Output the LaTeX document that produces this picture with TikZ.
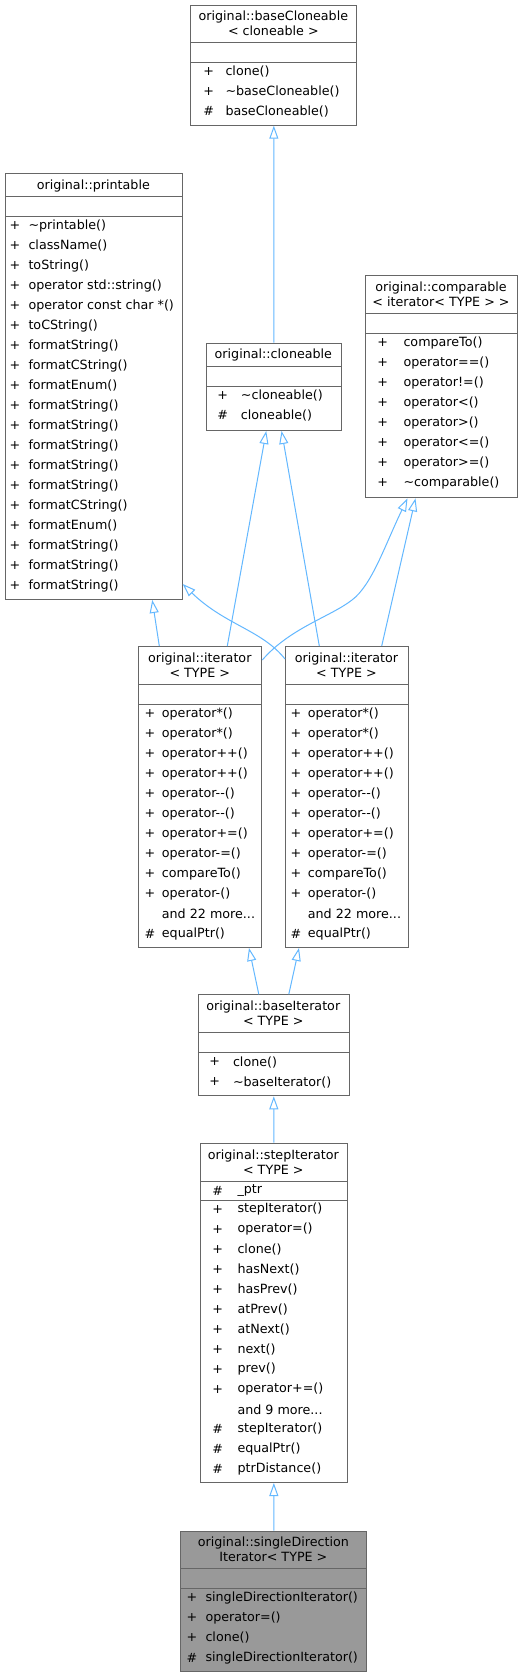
\documentclass[tikz,border=0pt]{standalone}
\usepackage{fontspec}
\setmainfont{DejaVu Sans}
\usepackage{xcolor}
\usepackage{tikz}
\usetikzlibrary{arrows.meta}
\definecolor{boxgray}{rgb}{0.4, 0.4, 0.4}
\definecolor{selgray}{rgb}{0.6, 0.6, 0.6}
\definecolor{edgeblue}{rgb}{0.388, 0.722, 1}
\newcommand{\andmore}[1]{and #1 more...}

\tikzset{
	classbox/.style={draw=boxgray, fill=white, line width=1pt, anchor=north west, inner sep=0pt},
	divider/.style={draw=boxgray, line width=1pt},
	classname/.style={align=center, inner sep=0pt},
	member/.style={anchor=west, inner sep=0pt},
	vis/.style={inner sep=0pt},
	inherit/.style={draw=edgeblue, line width=1pt, -{Triangle[open, length=13pt, width=9pt]}}
}

\begin{document}
\begin{tikzpicture}[x=1pt, y=-1pt, font=\fontsize{12.7}{15}\selectfont]
				\path[use as bounding box, fill=white] (0,0) rectangle (525,1676);
				
				% original::baseCloneable
				\node [classbox, minimum width=166pt, minimum height=120pt] (baseCloneable) at (190.35,4.7) {};
				\draw [divider] (190.35,42.7) -- (356.35,42.7);
				\draw [divider] (190.35,62) -- (356.35,62);
				\node [classname] (baseCloneable-t) at (273.35,23.7) {original::baseCloneable\\< cloneable >};
				\foreach \s [count=\i from 0] in {+, +, \#}
				\node [vis] (baseCloneable-v\i) at (208.6,{71.3+20*\i}) {\s};
				\foreach \m [count=\i from 0] in {clone(), \textasciitilde baseCloneable(), baseCloneable()}
				\node [member] (baseCloneable-m\i) at (225.3,{71.3+20*\i}) {\m};
				
				% original::printable
				\node [classbox, minimum width=176.7pt, minimum height=425.7pt] (printable) at (5,173.3) {};
				\draw [divider] (5,196.7) -- (181.7,196.7);
				\draw [divider] (5,216.7) -- (181.7,216.7);
				\node [classname] (printable-t) at (93.35,185.5) {original::printable};
				\foreach \i in {0,...,18}
				\node [vis] (printable-v\i) at (15,{226+20*\i}) {+};
				\foreach \m [count=\i from 0] in {\textasciitilde printable(), className(), toString(), operator std::string(), operator const char *(), toCString(), formatString(), formatCString(), formatEnum(), formatString(), formatString(), formatString(), formatString(), formatString(), formatCString(), formatEnum(), formatString(), formatString(), formatString()}
				\node [member] (printable-m\i) at (28.3,{226+20*\i}) {\m};
				
				% original::cloneable
				\node [classbox, minimum width=134.7pt, minimum height=87.3pt] (cloneable) at (206,342.7) {};
				\draw [divider] (206,366) -- (340.7,366);
				\draw [divider] (206,386) -- (340.7,386);
				\node [classname] (cloneable-t) at (273.35,354.8) {original::cloneable};
				\foreach \s [count=\i from 0] in {+, \#}
				\node [vis] (cloneable-v\i) at (222.7,{395.3+20*\i}) {\s};
				\foreach \m [count=\i from 0] in {\textasciitilde cloneable(), cloneable()}
				\node [member] (cloneable-m\i) at (240.7,{395.3+20*\i}) {\m};
				
				% original::comparable
				\node [classbox, minimum width=152pt, minimum height=222.4pt] (comparable) at (365,275) {};
				\draw [divider] (365,313.4) -- (517,313.4);
				\draw [divider] (365,333.4) -- (517,333.4);
				\node [classname] (comparable-t) at (441,294.2) {original::comparable\\< iterator< TYPE > >};
				\foreach \i in {0,...,7}
				\node [vis] (comparable-v\i) at (382.7,{342.7+20*\i}) {+};
				\foreach \m [count=\i from 0] in {compareTo(), operator==(), operator!=(), operator<(), operator>(), operator<=(), operator>=(), \textasciitilde comparable()}
				\node [member] (comparable-m\i) at (403.3,{342.7+20*\i}) {\m};
				
				% original::iterator (twice)
				\foreach \n/\x/\sx in {iterA/138.3/150, iterB/285/296} {
					\node [classbox, minimum width=123pt, minimum height=301pt] (\n) at (\x,646) {};
					\draw [divider] (\x,684) -- ++(123,0);
					\draw [divider] (\x,704.3) -- ++(123,0);
					\node [classname] (\n-t) at ({\x+61.5},665) {original::iterator\\< TYPE >};
					\foreach \i in {0,...,9}
					\node [vis] (\n-v\i) at (\sx,{713.5+20*\i}) {+};
					\node [vis] (\n-v11) at (\sx,933.5) {\#};
					\foreach \m [count=\i from 0] in {operator*(), operator*(), operator++(), operator++(), operator-{}-(), operator-{}-(), operator+=(), operator-=(), compareTo(), operator-(), \andmore{22}, equalPtr()}
					\node [member] (\n-m\i) at ({\sx+11.7},{713.5+20*\i}) {\m};
				}
				
				% original::baseIterator
				\node [classbox, minimum width=151pt, minimum height=101pt] (baseIter) at (197.8,994.3) {};
				\draw [divider] (197.8,1032.7) -- (348.8,1032.7);
				\draw [divider] (197.8,1052.7) -- (348.8,1052.7);
				\node [classname] (baseIter-t) at (273.3,1013.5) {original::baseIterator\\< TYPE >};
				\foreach \i in {0, 1}
				\node [vis] (baseIter-v\i) at (214.8,{1062+20*\i}) {+};
				\foreach \m [count=\i from 0] in {clone(), \textasciitilde baseIterator()}
				\node [member] (baseIter-m\i) at (232.8,{1062+20*\i}) {\m};
				
				% original::stepIterator
				\node [classbox, minimum width=146.7pt, minimum height=339.3pt] (stepIter) at (200,1142.7) {};
				\draw [divider] (200,1181) -- (346.7,1181);
				\draw [divider] (200,1200) -- (346.7,1200);
				\node [classname] (stepIter-t) at (273.35,1161.8) {original::stepIterator\\< TYPE >};
				\node [vis] (stepIter-a) at (217.7,1190.5) {\#};
				\node [member] (stepIter-ptr) at (237.3,1190.5) {\_ptr};
				\foreach \i in {0,...,9}
				\node [vis] (stepIter-v\i) at (217.7,{1209.3+20*\i}) {+};
				\foreach \i in {11, 12, 13}
				\node [vis] (stepIter-v\i) at (217.7,{1209.3+20*\i}) {\#};
				\foreach \m [count=\i from 0] in {stepIterator(), operator=(), clone(), hasNext(), hasPrev(), atPrev(), atNext(), next(), prev(), operator+=(), \andmore{9}, stepIterator(), equalPtr(), ptrDistance()}
				\node [member] (stepIter-m\i) at (237.3,{1209.3+20*\i}) {\m};
				
				% original::singleDirectionIterator
				\node [classbox, fill=selgray, minimum width=186pt, minimum height=140.3pt] (singleDir) at (180.35,1530.7) {};
				\draw [divider] (180.35,1568.3) -- (366.35,1568.3);
				\draw [divider] (180.35,1588.3) -- (366.35,1588.3);
				\node [classname] (singleDir-t) at (273.35,1549.5) {original::singleDirection\\Iterator< TYPE >};
				\foreach \s [count=\i from 0] in {+, +, +, \#}
				\node [vis] (singleDir-v\i) at (192,{1597.7+20*\i}) {\s};
				\foreach \m [count=\i from 0] in {singleDirectionIterator(), operator=(), clone(), singleDirectionIterator()}
				\node [member] (singleDir-m\i) at (205.3,{1597.7+20*\i}) {\m};
				
				% inheritance
				\draw [inherit] (cloneable.north) -- (baseCloneable.south);
				\draw [inherit] ([xshift=-41pt]iterA.north) -- ([xshift=58.4pt]printable.south);
				\draw [inherit] ([xshift=27pt]iterA.north) -- ([xshift=-7.6pt]cloneable.south);
				\draw [inherit] ([yshift=-14pt]iterA.north east) .. controls (290,628) and (330,617) .. (352,600) .. controls (372,585) and (385,545) .. ([xshift=-34pt]comparable.south);
				\draw [inherit] ([yshift=-13pt]iterB.north west) .. controls (262,630) and (225,625) .. ([yshift=16pt]printable.south east);
				\draw [inherit] ([xshift=-27.7pt]iterB.north) -- ([xshift=7.7pt]cloneable.south);
				\draw [inherit] ([xshift=34.7pt]iterB.north) -- ([xshift=-26pt]comparable.south);
				\draw [inherit] ([xshift=-15pt]baseIter.north) -- ([xshift=48.7pt]iterA.south);
				\draw [inherit] ([xshift=15pt]baseIter.north) -- ([xshift=-48pt]iterB.south);
				\draw [inherit] (stepIter.north) -- (baseIter.south);
				\draw [inherit] (singleDir.north) -- (stepIter.south);
\end{tikzpicture}
\end{document}
